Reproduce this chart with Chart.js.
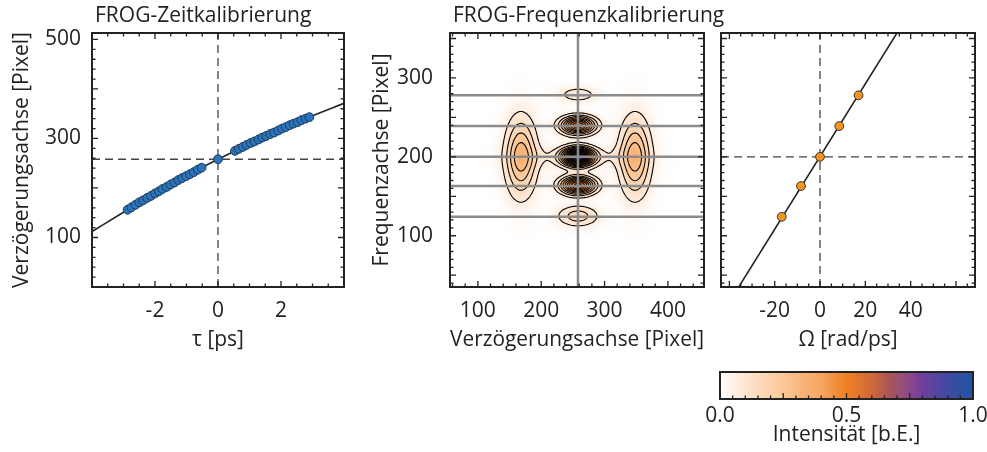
<!DOCTYPE html>
<html>
<head>
<meta charset="utf-8">
<script src="https://cdn.jsdelivr.net/npm/chart.js@4"></script>
<style>
  html, body { margin: 0; padding: 0; background: #fff; }
  .wrap { position: absolute; left: 0; top: 0; width: 987px; height: 452px; }
</style>
</head>
<body>
<div class="wrap"><canvas id="zeit"></canvas></div>
<div class="wrap"><canvas id="frog"></canvas></div>
<div class="wrap"><canvas id="freq"></canvas></div>
<div class="wrap"><canvas id="cbar"></canvas></div>
<script>
// ---- Zeitkalibrierung: Messpunkte tau [ps] -> Pixel auf der Verzoegerungsachse
const tauPs = [
  -2.87, -2.75, -2.62, -2.50, -2.38, -2.25, -2.13, -2.00, -1.88, -1.76,
  -1.63, -1.51, -1.38, -1.26, -1.14, -1.01, -0.89, -0.77, -0.64, -0.52,
  0,
  0.54, 0.66, 0.79, 0.91, 1.04, 1.16, 1.29, 1.41, 1.53, 1.66,
  1.78, 1.91, 2.03, 2.15, 2.28, 2.40, 2.53, 2.65, 2.78, 2.90
];
const delayPx = [
  156, 161, 166, 171, 175, 180, 184, 189, 193, 198,
  202, 207, 211, 216, 220, 224, 228, 232, 237, 241,
  258,
  275, 279, 283, 287, 291, 294, 298, 302, 305, 309,
  312, 316, 320, 323, 327, 330, 333, 337, 340, 343
];
// Ausgleichskurve
const fitTau = [-4, -3, -2, -1, 0, 1, 2, 3, 4];
const fitDelayPx = [112, 151, 189, 225, 258, 289, 319, 346, 371];
const timeZeroPx = 258;
const tauRange = [-4, 4];
const delayAxisRange = [0, 513];

// ---- Frequenzkalibrierung
const fringePx = [124, 163, 200, 239, 278];
const omegaRadPs = [-16.9, -8.4, 0, 8.5, 17.0];
const fitOmega = [-45, 70];
const fitFreqPx = [-7, 523];
const centerDelayPx = 258;
const centerFreqPx = 200;
const frogDelayRange = [56, 457];
const frogFreqRange = [35, 357];
const omegaRange = [-43.7, 68.4];

// FROG-Spur: gaussfoermige Anteile (Mitte, Breiten, Hoehe)
const lobeDelay      = [168, 348, 258, 258, 258, 258, 258, 258];
const lobeFreq       = [200, 200, 200, 240, 164, 279, 125, 200];
const lobeWidthDelay = [16.5, 16.5, 16, 18, 18, 22, 22, 60];
const lobeWidthFreq  = [33, 33, 7.5, 7.5, 7.5, 7, 9, 10];
const lobePeak       = [0.32, 0.32, 0.93, 0.62, 0.66, 0.11, 0.18, 0.075];
const contourLevels = [0.07, 0.14, 0.21, 0.28, 0.35, 0.42, 0.49, 0.56, 0.63, 0.70, 0.77, 0.84, 0.91, 0.98];

// Farbskala
const cmapStops  = [0, 0.08, 0.25, 0.4, 0.5, 0.6, 0.7, 0.78, 0.88, 1];
const cmapColors = ['#ffffff', '#fde9d8', '#fbc898', '#f6a25a', '#f08124', '#cf6a38', '#9c4c6a', '#7b3d99', '#4848a0', '#1f55a6'];
const cbarTicks = [0, 0.5, 1];

const W = 987, H = 452;
const INK = '#222';
const FONT = '"Open Sans", "DejaVu Sans", sans-serif';
Chart.defaults.font.family = FONT;
Chart.defaults.font.size = 21;
Chart.defaults.color = INK;

// Raster der FROG-Spur
const gridStep = 2;
const gridDelay0 = 56, gridFreq0 = 34;
const nx = Math.round((458 - gridDelay0) / gridStep) + 1;
const ny = Math.round((358 - gridFreq0) / gridStep) + 1;
const trace = new Float32Array(nx * ny);
for (let j = 0; j < ny; j++) {
  for (let i = 0; i < nx; i++) {
    const d = gridDelay0 + i * gridStep, f = gridFreq0 + j * gridStep;
    let s = 0;
    for (let k = 0; k < lobePeak.length; k++) {
      const dx = (d - lobeDelay[k]) / lobeWidthDelay[k];
      const dy = (f - lobeFreq[k]) / lobeWidthFreq[k];
      s += lobePeak[k] * Math.exp(-0.5 * (dx * dx + dy * dy));
    }
    trace[j * nx + i] = s;
  }
}

const cmapRgb = cmapColors.map(c => [1, 3, 5].map(o => parseInt(c.substr(o, 2), 16)));
function cmap(v) {
  v = Math.max(0, Math.min(1, v));
  let k = 0;
  while (k < cmapStops.length - 2 && v > cmapStops[k + 1]) k++;
  const t = (v - cmapStops[k]) / (cmapStops[k + 1] - cmapStops[k]);
  const a = cmapRgb[k], b = cmapRgb[k + 1];
  return [0, 1, 2].map(n => Math.round(a[n] + (b[n] - a[n]) * t));
}

// marching squares, liefert Segmentendpunkte in Rasterindizes
function contourSegments(level) {
  const segs = [];
  for (let j = 0; j < ny - 1; j++) {
    for (let i = 0; i < nx - 1; i++) {
      const a = trace[j * nx + i], b = trace[j * nx + i + 1];
      const c = trace[(j + 1) * nx + i + 1], d = trace[(j + 1) * nx + i];
      const A = a > level, B = b > level, C = c > level, D = d > level;
      if (A === B && B === C && C === D) continue;
      const e = [];
      if (A !== B) e.push([i + (level - a) / (b - a), j]);
      if (B !== C) e.push([i + 1, j + (level - b) / (c - b)]);
      if (C !== D) e.push([i + 1 - (level - c) / (d - c), j + 1]);
      if (D !== A) e.push([i, j + 1 - (level - d) / (a - d)]);
      for (let n = 0; n + 1 < e.length; n += 2) segs.push(e[n], e[n + 1]);
    }
  }
  return segs;
}

// Plotbereich fest vorgeben
function areaLayout(area) {
  return { padding: { left: 0, top: area[1], right: W - area[2], bottom: 0 } };
}
function fixWidth(w) {
  return s => { s.width = w; s.paddingTop = 0; s.paddingBottom = 0; };
}
function fixHeight(h) {
  return s => { s.height = h; s.paddingLeft = 0; s.paddingRight = 0; };
}
function onlyTicks(values) {
  return s => { s.ticks = values.map(v => ({ value: v })); };
}

// Rahmen mit Innenstrichen auf allen Seiten
function frameTicks(cfg) {
  return {
    id: 'frameTicks',
    afterDatasetsDraw(chart) {
      const { ctx, chartArea: a } = chart;
      const { x, y } = chart.scales;
      ctx.save();
      ctx.strokeStyle = INK;
      ctx.lineWidth = 1.3;
      ctx.beginPath();
      const each = (scale, minor, major, fn) => {
        const k0 = Math.ceil(scale.min / minor - 1e-9), k1 = Math.floor(scale.max / minor + 1e-9);
        for (let k = k0; k <= k1; k++) {
          const v = k * minor;
          const r = v / major;
          fn(scale.getPixelForValue(v), Math.abs(r - Math.round(r)) < 1e-6 ? 6 : 3.5);
        }
      };
      each(x, cfg.xMinor, cfg.xMajor, (p, len) => {
        ctx.moveTo(p, a.bottom); ctx.lineTo(p, a.bottom - len);
        if (cfg.mirror) { ctx.moveTo(p, a.top); ctx.lineTo(p, a.top + len); }
      });
      if (cfg.yMinor) {
        each(y, cfg.yMinor, cfg.yMajor, (p, len) => {
          ctx.moveTo(a.left, p); ctx.lineTo(a.left + len, p);
          ctx.moveTo(a.right, p); ctx.lineTo(a.right - len, p);
        });
      }
      ctx.stroke();
      ctx.lineWidth = 2;
      ctx.strokeRect(a.left, a.top, a.right - a.left, a.bottom - a.top);
      ctx.restore();
    }
  };
}

function panelTitle(text) {
  return {
    id: 'panelTitle',
    afterDraw(chart) {
      const { ctx, chartArea: a } = chart;
      ctx.save();
      ctx.font = '21px ' + FONT;
      ctx.fillStyle = INK;
      ctx.textBaseline = 'alphabetic';
      ctx.fillText(text, a.left + 3, 22);
      ctx.restore();
    }
  };
}

function xy(xs, ys) { return xs.map((v, i) => ({ x: v, y: ys[i] })); }

function dashed(data) {
  return { data, showLine: true, borderColor: '#444', borderWidth: 1.3, borderDash: [8, 5], pointRadius: 0 };
}

const baseOptions = {
  animation: false,
  responsive: true,
  maintainAspectRatio: false,
  events: [],
  plugins: { legend: { display: false }, tooltip: { enabled: false } }
};

function axis(opts) {
  return Object.assign({
    type: 'linear',
    grid: { display: false, drawTicks: false },
    border: { display: false },
    ticks: { autoSkip: false, maxRotation: 0 }
  }, opts);
}

// ---- FROG-Zeitkalibrierung
const zeitArea = [92, 33, 344, 287];
new Chart(document.getElementById('zeit'), {
  type: 'scatter',
  data: {
    datasets: [
      { data: xy(tauPs, delayPx), backgroundColor: '#2b74b9', borderColor: '#1b3a5c', borderWidth: 1, pointRadius: 4.4 },
      { data: xy(fitTau, fitDelayPx), showLine: true, borderColor: INK, borderWidth: 1.6, pointRadius: 0, cubicInterpolationMode: 'monotone' },
      dashed(xy([0, 0], delayAxisRange)),
      dashed(xy(tauRange, [timeZeroPx, timeZeroPx]))
    ]
  },
  options: Object.assign({}, baseOptions, {
    layout: areaLayout(zeitArea),
    scales: {
      x: axis({
        min: tauRange[0], max: tauRange[1],
        afterBuildTicks: onlyTicks([-2, 0, 2]),
        afterFit: fixHeight(H - zeitArea[3]),
        ticks: { autoSkip: false, maxRotation: 0, padding: 11 },
        title: { display: true, text: 'τ [ps]', padding: { top: 0, bottom: 99 } }
      }),
      y: axis({
        min: delayAxisRange[0], max: delayAxisRange[1],
        afterBuildTicks: onlyTicks([100, 300, 500]),
        afterFit: fixWidth(zeitArea[0]),
        ticks: { autoSkip: false, padding: 11 },
        title: { display: true, text: 'Verzögerungsachse [Pixel]', padding: { top: 9, bottom: 0 } }
      })
    }
  }),
  plugins: [frameTicks({ xMinor: 0.5, xMajor: 2, yMinor: 20, yMajor: 100, mirror: true }), panelTitle('FROG-Zeitkalibrierung')]
});

// ---- FROG-Spur mit Hoehenlinien
const frogArea = [450, 33, 704, 287];
const traceLayer = {
  id: 'traceLayer',
  beforeDatasetsDraw(chart) {
    const { ctx, chartArea: a } = chart;
    const { x, y } = chart.scales;
    const off = document.createElement('canvas');
    off.width = nx; off.height = ny;
    const octx = off.getContext('2d');
    const img = octx.createImageData(nx, ny);
    for (let j = 0; j < ny; j++) {
      for (let i = 0; i < nx; i++) {
        const c = cmap(trace[j * nx + i]);
        const p = ((ny - 1 - j) * nx + i) * 4;
        img.data[p] = c[0]; img.data[p + 1] = c[1]; img.data[p + 2] = c[2]; img.data[p + 3] = 255;
      }
    }
    octx.putImageData(img, 0, 0);
    ctx.save();
    ctx.beginPath();
    ctx.rect(a.left, a.top, a.right - a.left, a.bottom - a.top);
    ctx.clip();
    const x0 = x.getPixelForValue(gridDelay0 - gridStep / 2);
    const x1 = x.getPixelForValue(gridDelay0 + (nx - 0.5) * gridStep);
    const yt = y.getPixelForValue(gridFreq0 + (ny - 0.5) * gridStep);
    const yb = y.getPixelForValue(gridFreq0 - gridStep / 2);
    ctx.imageSmoothingEnabled = true;
    ctx.drawImage(off, x0, yt, x1 - x0, yb - yt);

    const px = gi => x.getPixelForValue(gridDelay0 + gi * gridStep);
    const py = gj => y.getPixelForValue(gridFreq0 + gj * gridStep);
    ctx.strokeStyle = '#000';
    ctx.lineWidth = 1.1;
    contourLevels.forEach(level => {
      const segs = contourSegments(level);
      ctx.beginPath();
      for (let n = 0; n < segs.length; n += 2) {
        ctx.moveTo(px(segs[n][0]), py(segs[n][1]));
        ctx.lineTo(px(segs[n + 1][0]), py(segs[n + 1][1]));
      }
      ctx.stroke();
    });
    ctx.restore();
  }
};

const grayLine = data => ({ data, showLine: true, borderColor: '#8c8c8c', borderWidth: 2.5, pointRadius: 0 });

new Chart(document.getElementById('frog'), {
  type: 'scatter',
  data: {
    datasets: fringePx.map(f => grayLine(xy(frogDelayRange, [f, f])))
      .concat([grayLine(xy([centerDelayPx, centerDelayPx], frogFreqRange))])
  },
  options: Object.assign({}, baseOptions, {
    layout: areaLayout(frogArea),
    scales: {
      x: axis({
        min: frogDelayRange[0], max: frogDelayRange[1],
        afterBuildTicks: onlyTicks([100, 200, 300, 400]),
        afterFit: fixHeight(H - frogArea[3]),
        ticks: { autoSkip: false, maxRotation: 0, padding: 11 },
        title: { display: true, text: 'Verzögerungsachse [Pixel]', padding: { top: 0, bottom: 99 } }
      }),
      y: axis({
        min: frogFreqRange[0], max: frogFreqRange[1],
        afterBuildTicks: onlyTicks([100, 200, 300]),
        afterFit: fixWidth(frogArea[0]),
        ticks: { autoSkip: false, padding: 17 },
        title: { display: true, text: 'Frequenzachse [Pixel]', padding: { top: 369, bottom: 0 } }
      })
    }
  }),
  plugins: [traceLayer, frameTicks({ xMinor: 20, xMajor: 100, yMinor: 10, yMajor: 50, mirror: true }), panelTitle('FROG-Frequenzkalibrierung')]
});

// ---- Frequenzachse gegen Omega
const freqArea = [721, 33, 975, 287];
new Chart(document.getElementById('freq'), {
  type: 'scatter',
  data: {
    datasets: [
      { data: xy(omegaRadPs, fringePx), backgroundColor: '#f7941e', borderColor: '#333', borderWidth: 1, pointRadius: 4.4 },
      { data: xy(fitOmega, fitFreqPx), showLine: true, borderColor: INK, borderWidth: 1.6, pointRadius: 0 },
      dashed(xy([0, 0], frogFreqRange)),
      dashed(xy(omegaRange, [centerFreqPx, centerFreqPx]))
    ]
  },
  options: Object.assign({}, baseOptions, {
    layout: areaLayout(freqArea),
    scales: {
      x: axis({
        min: omegaRange[0], max: omegaRange[1],
        afterBuildTicks: onlyTicks([-20, 0, 20, 40]),
        afterFit: fixHeight(H - freqArea[3]),
        ticks: { autoSkip: false, maxRotation: 0, padding: 11 },
        title: { display: true, text: 'Ω [rad/ps]', padding: { top: 0, bottom: 99 } }
      }),
      y: axis({
        min: frogFreqRange[0], max: frogFreqRange[1],
        afterFit: fixWidth(freqArea[0]),
        ticks: { display: false }
      })
    }
  }),
  plugins: [frameTicks({ xMinor: 5, xMajor: 20, yMinor: 10, yMajor: 50, mirror: true })]
});

// ---- Farbbalken
const cbarArea = [720, 372, 973, 399];
const cbarFill = {
  id: 'cbarFill',
  beforeDatasetsDraw(chart) {
    const { ctx, chartArea: a } = chart;
    const x = chart.scales.x;
    const steps = 250;
    for (let k = 0; k < steps; k++) {
      const v0 = k / steps, v1 = (k + 1) / steps;
      const c = cmap((v0 + v1) / 2);
      ctx.fillStyle = 'rgb(' + c.join(',') + ')';
      const p0 = x.getPixelForValue(v0), p1 = x.getPixelForValue(v1);
      ctx.fillRect(p0, a.top, p1 - p0 + 0.6, a.bottom - a.top);
    }
  }
};
new Chart(document.getElementById('cbar'), {
  type: 'scatter',
  data: { datasets: [] },
  options: Object.assign({}, baseOptions, {
    layout: areaLayout(cbarArea),
    scales: {
      x: axis({
        min: 0, max: 1,
        afterBuildTicks: onlyTicks(cbarTicks),
        afterFit: fixHeight(H - cbarArea[3]),
        ticks: { autoSkip: false, maxRotation: 0, padding: 4, callback: v => v.toFixed(1) },
        title: { display: true, text: 'Intensität [b.E.]', padding: { top: 0, bottom: 4 } }
      }),
      y: axis({
        min: 0, max: 1,
        afterFit: fixWidth(cbarArea[0]),
        ticks: { display: false }
      })
    }
  }),
  plugins: [cbarFill, frameTicks({ xMinor: 0.05, xMajor: 0.25, mirror: false })]
});
</script>
</body>
</html>
